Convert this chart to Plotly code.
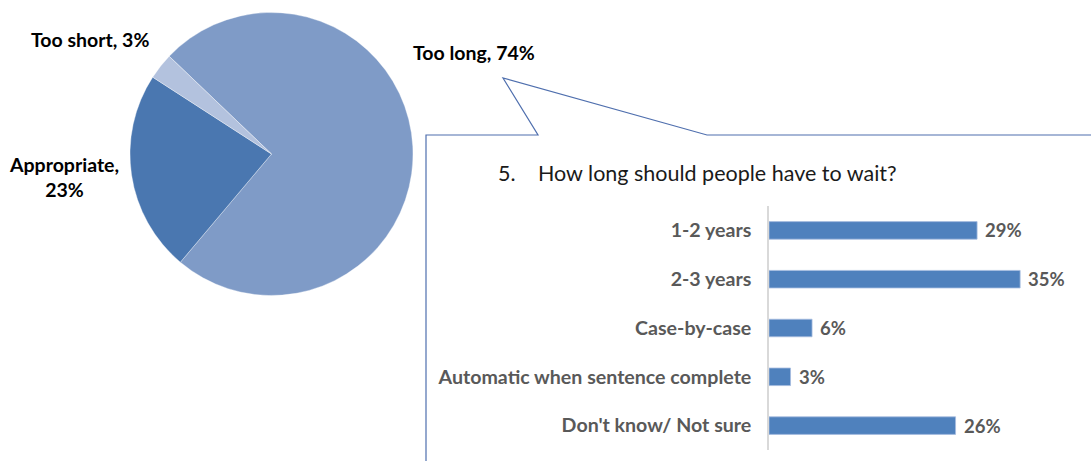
import plotly.graph_objects as go

W, H = 1091, 461

# Pie: opinion on the waiting period
pie_labels = ["Too long", "Appropriate", "Too short"]
pie_values = [74, 23, 3]
pie_colors = ["#7f9bc7", "#4a77b0", "#b3c2de"]

# Bars: how long people should have to wait
bar_categories = ["1-2 years", "2-3 years", "Case-by-case",
                  "Automatic when sentence complete", "Don't know/ Not sure"]
bar_values = [29, 35, 6, 3, 26]

FONT = "Lato, 'Open Sans', sans-serif"


def px(x):
    return x / W


def py(y):
    return 1 - y / H


fig = go.Figure()

fig.add_trace(go.Pie(
    labels=pie_labels,
    values=pie_values,
    marker=dict(colors=pie_colors, line=dict(color="rgba(255,255,255,0.5)", width=0.7)),
    sort=False,
    direction="clockwise",
    rotation=313.7,
    textinfo="none",
    hoverinfo="label+percent",
    showlegend=False,
    domain=dict(x=[px(130), px(413)], y=[py(295.5), py(12.5)]),
))

fig.add_trace(go.Bar(
    x=bar_values,
    y=bar_categories,
    orientation="h",
    marker=dict(color="#4f81bd", line=dict(color="#a7bde0", width=0.8)),
    width=0.36,
    showlegend=False,
    xaxis="x", yaxis="y",
))

# Pie slice labels
pie_label_pos = {
    "Too long": dict(x=411, y=53, xanchor="left", text="{l}, {v}%"),
    "Appropriate": dict(x=64, y=177, xanchor="center", text="{l},<br>{v}%"),
    "Too short": dict(x=29, y=39, xanchor="left", text="{l}, {v}%"),
}
annotations = []
for lab, val in zip(pie_labels, pie_values):
    p = pie_label_pos[lab]
    annotations.append(dict(
        x=px(p["x"]), y=py(p["y"]), xref="paper", yref="paper",
        xanchor=p["xanchor"], yanchor="middle", showarrow=False, align="center",
        text="<b>" + p["text"].format(l=lab, v=val) + "</b>",
        font=dict(family=FONT, size=19.5, color="#000000"),
    ))

# Bar value labels
for cat, val in zip(bar_categories, bar_values):
    annotations.append(dict(
        x=val, y=cat, xref="x", yref="y", xanchor="left", yanchor="middle",
        xshift=6, showarrow=False, text=f"<b>{val}%</b>",
        font=dict(family=FONT, size=18.5, color="#595959"),
    ))

# Question heading
annotations.append(dict(
    x=px(496), y=py(173), xref="paper", yref="paper", xanchor="left", yanchor="middle",
    showarrow=False, text="5.", font=dict(family=FONT, size=21.5, color="#1a1a1a"),
))
annotations.append(dict(
    x=px(536), y=py(173), xref="paper", yref="paper", xanchor="left", yanchor="middle",
    showarrow=False, text="How long should people have to wait?",
    font=dict(family=FONT, size=21.5, color="#1a1a1a"),
))

# Callout outline pointing from the pie to the bar panel
pts = [(426, 470), (426, 135), (538, 135), (503, 78), (707, 135), (1095, 135)]
path = "M " + " L ".join(f"{px(x)},{py(y)}" for x, y in pts)

fig.update_layout(
    width=W, height=H,
    margin=dict(l=0, r=0, t=0, b=0),
    paper_bgcolor="white", plot_bgcolor="white",
    xaxis=dict(domain=[px(769), px(1056)], range=[0, 40], visible=False, fixedrange=True),
    yaxis=dict(
        domain=[py(450), py(206)],
        autorange="reversed",
        showline=True, linecolor="#d9d9d9", linewidth=1.5,
        showgrid=False, zeroline=False,
        ticks="", ticklabelstandoff=12,
        tickfont=dict(family=FONT, size=19.6, color="#595959", weight="bold"),
    ),
    bargap=0.64,
    annotations=annotations,
    shapes=[dict(type="path", path=path, xref="paper", yref="paper",
                 line=dict(color="#4f6fae", width=1.2))],
)

fig.write_html("out.html")
